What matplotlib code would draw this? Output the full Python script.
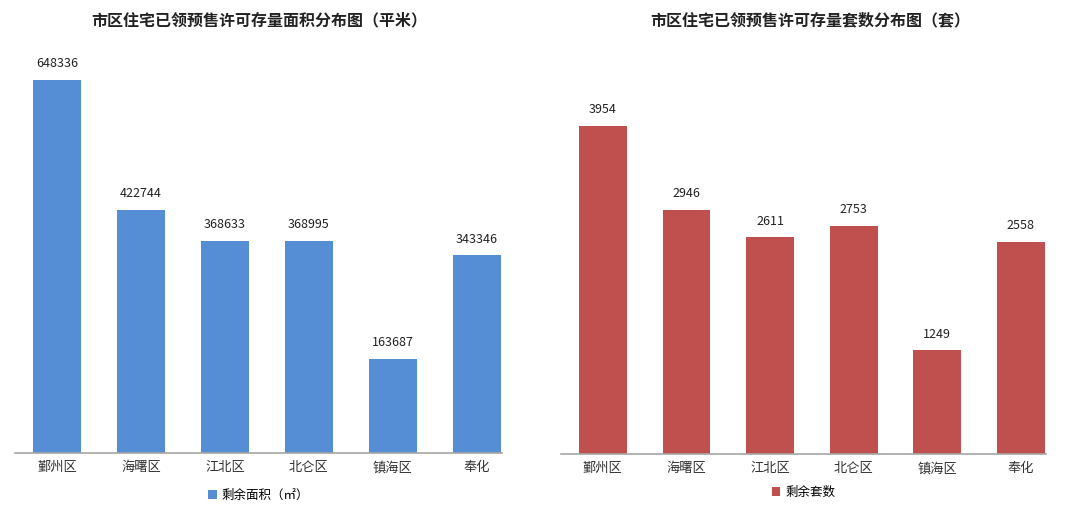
import matplotlib
matplotlib.use("Agg")
import matplotlib.pyplot as plt

plt.rcParams["font.family"] = ["Noto Sans CJK SC", "DejaVu Sans"]

districts = ["鄞州区", "海曙区", "江北区", "北仑区", "镇海区", "奉化"]
area = [648336, 422744, 368633, 368995, 163687, 343346]
units = [3954, 2946, 2611, 2753, 1249, 2558]

BLUE = "#558ED5"
RED = "#C0504D"
AXIS = "#A6A6A6"

W, H = 1080, 517
fig = plt.figure(figsize=(W / 100, H / 100), dpi=100)


def px_axes(x0, x1, ybot, ytop):
    return fig.add_axes([x0 / W, (H - ybot) / H, (x1 - x0) / W, (ybot - ytop) / H])


def draw(ax, vals, color, ymax, label, title, title_x, leg_y):
    x = range(len(vals))
    ax.bar(x, vals, width=0.57, color=color, label=label, zorder=2)
    for i, v in zip(x, vals):
        ax.annotate(str(v), (i, v), xytext=(0, 7), textcoords="offset points",
                    ha="center", va="bottom", fontsize=9, color="#222222")
    ax.set_xlim(-0.5, 5.3)
    ax.set_ylim(0, ymax)
    ax.set_xticks(list(x))
    ax.set_xticklabels(districts, fontsize=9.5, color="#333333")
    ax.tick_params(axis="x", length=0, pad=6)
    ax.set_yticks([])
    for s in ["top", "right", "left"]:
        ax.spines[s].set_visible(False)
    ax.spines["bottom"].set_color(AXIS)
    ax.spines["bottom"].set_linewidth(1.2)
    fig.text(title_x / W, (H - 20) / H, title, ha="center", va="center",
             fontsize=11.5, fontweight="bold", color="#222222")
    ax.legend(loc="center", bbox_to_anchor=(0.5, -(leg_y - 453) / (453 - 50)),
              frameon=False, fontsize=9, handlelength=0.7, handleheight=0.7,
              handletextpad=0.4)


ax1 = px_axes(15, 502, 453, 50)
draw(ax1, area, BLUE, 648336 * 403 / 373, "剩余面积（㎡）",
     "市区住宅已领预售许可存量面积分布图（平米）", 259, 495)

ax2 = px_axes(561, 1046, 454, 51)
draw(ax2, units, RED, 3954 * 403 / 328, "剩余套数",
     "市区住宅已领预售许可存量套数分布图（套）", 810, 491)

fig.savefig("out.png", dpi=100, facecolor="white")
